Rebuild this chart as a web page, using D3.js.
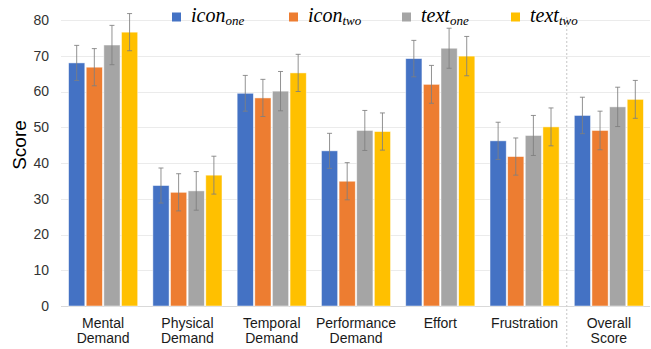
<!DOCTYPE html>
<html>
<head>
<meta charset="utf-8">
<script src="https://cdn.jsdelivr.net/npm/d3@7"></script>
<style>
  body { margin: 0; background: #fff; }
  svg { display: block; }
  .tick text { font-family: "Liberation Sans", Arial, sans-serif; font-size: 14px; fill: #333; }
</style>
</head>
<body>
<svg id="chart" width="651" height="349"></svg>
<script>
// categories and series
var categories = [["Mental", "Demand"], ["Physical", "Demand"], ["Temporal", "Demand"],
    ["Performance", "Demand"], ["Effort"], ["Frustration"], ["Overall", "Score"]];
var seriesNames = [["icon", "one"], ["icon", "two"], ["text", "one"], ["text", "two"]];
var colors = ["#4472c4", "#ed7d31", "#a5a5a5", "#ffc000"];

var iconOne = [68.0, 33.7, 59.5, 43.4, 69.2, 46.2, 53.3];
var iconTwo = [66.8, 31.8, 58.2, 34.9, 62.0, 41.8, 49.1];
var textOne = [73.0, 32.2, 60.1, 49.1, 72.1, 47.7, 55.7];
var textTwo = [76.6, 36.6, 65.2, 48.8, 69.9, 50.1, 57.8];

var errIconOne = [4.9, 4.9, 5.0, 4.9, 5.1, 5.2, 5.1];
var errIconTwo = [5.2, 5.2, 5.2, 5.2, 5.3, 5.2, 5.4];
var errTextOne = [5.5, 5.4, 5.5, 5.6, 5.6, 5.6, 5.5];
var errTextTwo = [5.2, 5.3, 5.2, 5.2, 5.5, 5.3, 5.3];

var yTicks = [0, 10, 20, 30, 40, 50, 60, 70, 80];

var values = [iconOne, iconTwo, textOne, textTwo];
var errors = [errIconOne, errIconTwo, errTextOne, errTextTwo];

var svg = d3.select("#chart"),
    margin = {top: 20, left: 61, right: 0, bottom: 43},
    width = 651 - margin.left - margin.right,
    height = 349 - margin.top - margin.bottom,
    g = svg.append("g").attr("transform", "translate(" + margin.left + "," + margin.top + ")");

var x0 = d3.scaleBand()
    .domain(d3.range(categories.length))
    .range([0, width])
    .paddingInner(0.18)
    .paddingOuter(0.09);

var x1 = d3.scaleBand()
    .domain(d3.range(seriesNames.length))
    .range([0, x0.bandwidth()])
    .paddingInner(0.08);

var y = d3.scaleLinear().domain([0, 80]).range([height, 0]);

// gridlines
g.append("g")
    .selectAll("line")
    .data(yTicks)
    .enter()
    .append("line")
    .attr("x1", 0)
    .attr("x2", width - 1)
    .attr("y1", function(d) { return Math.round(y(d)) + 0.5; })
    .attr("y2", function(d) { return Math.round(y(d)) + 0.5; })
    .attr("stroke", function(d) { return d === 0 ? "#d9d9d9" : "#ebebeb"; })
    .attr("stroke-width", 1.2);

// y axis labels only
var yAxis = g.append("g")
    .call(d3.axisLeft(y).tickValues(yTicks).tickSize(0).tickPadding(12));
yAxis.select(".domain").remove();

// separator before "Overall Score"
var sepX = x0(6) - x0.step() * x0.paddingInner() / 2;
g.append("line")
    .attr("x1", sepX).attr("x2", sepX)
    .attr("y1", 17 - margin.top).attr("y2", 349 - margin.top)
    .attr("stroke", "#cfcfcf")
    .attr("stroke-width", 1.2)
    .attr("stroke-dasharray", "2,2");

// bars
var groups = g.selectAll(".grp")
    .data(categories)
    .enter()
    .append("g")
    .attr("class", "grp")
    .attr("transform", function(d, i) { return "translate(" + x0(i) + ",0)"; });

groups.selectAll("rect")
    .data(function(d, i) { return values.map(function(s, j) { return {s: j, v: s[i], e: errors[j][i]}; }); })
    .enter()
    .append("rect")
    .attr("x", function(d) { return x1(d.s); })
    .attr("y", function(d) { return y(d.v); })
    .attr("width", x1.bandwidth())
    .attr("height", function(d) { return y(0) - y(d.v); })
    .attr("fill", function(d) { return colors[d.s]; })
    .attr("stroke", "#fff")
    .attr("stroke-opacity", 0.6)
    .attr("stroke-width", 0.8);

// error bars
var eb = groups.selectAll(".err")
    .data(function(d, i) { return values.map(function(s, j) { return {s: j, v: s[i], e: errors[j][i]}; }); })
    .enter()
    .append("g")
    .attr("class", "err")
    .attr("stroke", "#7f7f7f")
    .attr("stroke-opacity", 0.85)
    .attr("stroke-width", 1);

function cx(d) { return x1(d.s) + x1.bandwidth() / 2; }

eb.append("line")
    .attr("x1", cx).attr("x2", cx)
    .attr("y1", function(d) { return y(d.v + d.e); })
    .attr("y2", function(d) { return y(d.v - d.e); });
eb.append("line")
    .attr("x1", function(d) { return cx(d) - 2.5; })
    .attr("x2", function(d) { return cx(d) + 2.5; })
    .attr("y1", function(d) { return y(d.v + d.e); })
    .attr("y2", function(d) { return y(d.v + d.e); });
eb.append("line")
    .attr("x1", function(d) { return cx(d) - 2.5; })
    .attr("x2", function(d) { return cx(d) + 2.5; })
    .attr("y1", function(d) { return y(d.v - d.e); })
    .attr("y2", function(d) { return y(d.v - d.e); });

// category labels
groups.append("text")
    .attr("text-anchor", "middle")
    .style("font-family", "'Liberation Sans', Arial, sans-serif")
    .style("font-size", "14px")
    .attr("fill", "#1a1a1a")
    .selectAll("tspan")
    .data(function(d) { return d; })
    .enter()
    .append("tspan")
    .attr("x", x0.bandwidth() / 2)
    .attr("y", function(d, i) { return height + 22 + i * 15; })
    .text(function(d) { return d; });

// y axis title
svg.append("text")
    .attr("transform", "translate(26,145) rotate(-90)")
    .attr("text-anchor", "middle")
    .style("font-family", "'Liberation Sans', Arial, sans-serif")
    .style("font-size", "19px")
    .attr("fill", "#000")
    .text("Score");

// legend
var legendX = [172, 289, 402, 511];
var legend = svg.selectAll(".leg")
    .data(seriesNames)
    .enter()
    .append("g")
    .attr("class", "leg")
    .attr("transform", function(d, i) { return "translate(" + legendX[i] + ",0)"; });

legend.append("rect")
    .attr("x", 0).attr("y", 12.5)
    .attr("width", 9).attr("height", 9)
    .attr("fill", function(d, i) { return colors[i]; });

var lt = legend.append("text")
    .attr("x", 19).attr("y", 22)
    .style("font-family", "'Liberation Serif', 'Times New Roman', serif")
    .style("font-style", "italic")
    .attr("fill", "#000");
lt.append("tspan")
    .style("font-size", "20px")
    .text(function(d) { return d[0]; });
lt.append("tspan")
    .style("font-size", "13px")
    .attr("dy", 3)
    .text(function(d) { return d[1]; });
</script>
</body>
</html>
